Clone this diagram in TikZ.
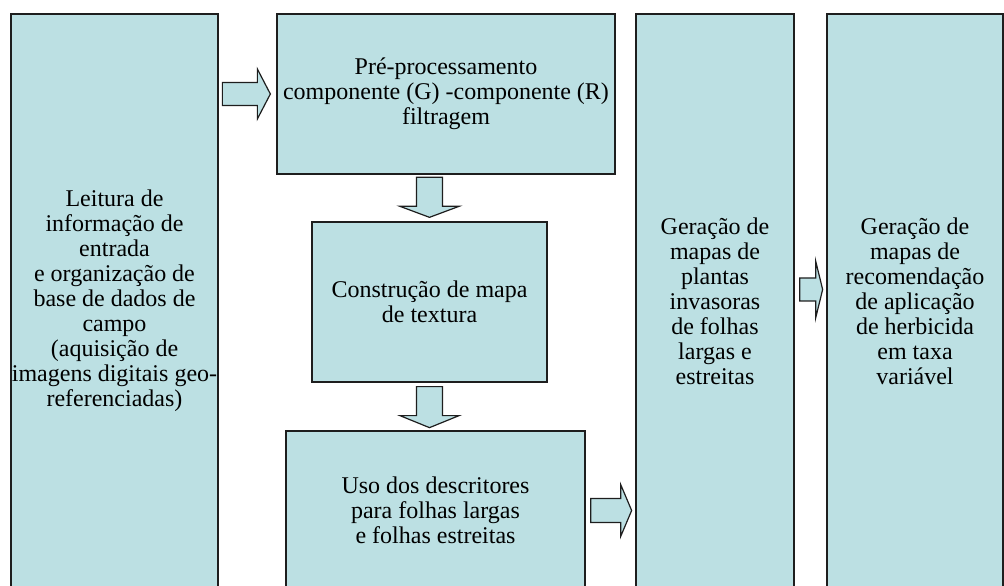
\documentclass[tikz,border=0pt]{standalone}
\usepackage{fontspec}
\setmainfont{Liberation Serif}
\usetikzlibrary{calc}

\definecolor{boxfill}{RGB}{188,224,227}
\definecolor{boxline}{RGB}{30,30,30}

\tikzset{
  box/.style={draw=boxline, fill=boxfill, line width=1.3pt, inner sep=0pt,
    align=center, font=\fontsize{24}{25}\selectfont},
  blk/.style={draw=boxline, fill=boxfill, line width=1.2pt, line join=miter}
}

\begin{document}
\begin{tikzpicture}[x=1pt, y=1pt]

    % FRAME
    \useasboundingbox (0,0) rectangle (1004,586);
    \clip (0,0) rectangle (1004,586);

    % BOXES
    \node[box, minimum width=207pt, minimum height=574pt] (lei) at (114.5,285)
        {Leitura de\\informação de\\entrada\\e organização de\\base de dados de\\campo\\(aquisição de\\imagens digitais geo-\\referenciadas)};
    \node[box, minimum width=338pt, minimum height=160pt] (pre) at (446,492)
        {Pré-processamento\\componente (G) -componente (R)\\filtragem};
    \node[box, minimum width=235pt, minimum height=160pt] (tex) at (429.5,284)
        {Construção de mapa\\de textura};
    \node[box, minimum width=299pt, minimum height=159pt] (uso) at (435.5,75.5)
        {Uso dos descritores\\para folhas largas\\e folhas estreitas};
    \node[box, minimum width=158pt, minimum height=574pt] (ger) at (715,285)
        {Geração de\\mapas de\\plantas\\invasoras\\de folhas\\largas e\\estreitas};
    \node[box, minimum width=176pt, minimum height=574pt] (rec) at (915,285)
        {Geração de\\mapas de\\recomendação\\de aplicação\\de herbicida\\em taxa\\variável};

    % BLOCK ARROWS
    \draw[blk, shift={($(pre.west)+(-54,0)$)}]
        (0,-11.5) -- (35,-11.5) -- (35,-25) -- (48,0) -- (35,25) -- (35,11.5) -- (0,11.5) -- cycle;
    \draw[blk, shift={($(tex.north)+(0,44)$)}]
        (-13,0) -- (-13,-29) -- (-29.5,-29) -- (0,-40) -- (29.5,-29) -- (13,-29) -- (13,0) -- cycle;
    \draw[blk, shift={($(tex.south)+(0,-4)$)}]
        (-13,0) -- (-13,-29) -- (-29.5,-29) -- (0,-41) -- (29.5,-29) -- (13,-29) -- (13,0) -- cycle;
    \draw[blk, shift={($(uso.east)+(5,0)$)}]
        (0,-12) -- (30,-12) -- (30,-26) -- (41,0) -- (30,26) -- (30,12) -- (0,12) -- cycle;
    \draw[blk, shift={($(ger.east)+(5,11.5)$)}]
        (0,-11.5) -- (16,-11.5) -- (16,-28.5) -- (23,0) -- (16,28.5) -- (16,11.5) -- (0,11.5) -- cycle;

\end{tikzpicture}
\end{document}
